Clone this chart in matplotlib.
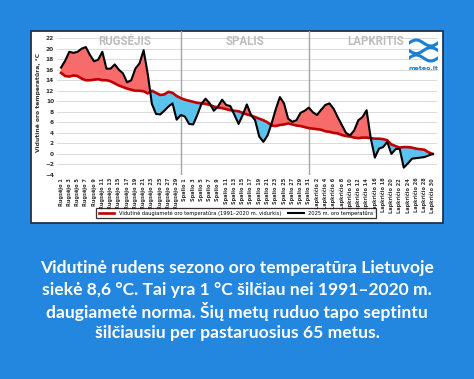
import numpy as np
import matplotlib
matplotlib.use("Agg")
import matplotlib.pyplot as plt
from matplotlib.patches import Rectangle

# Dienos nuo rugsėjo 1 iki lapkričio 30
sep_days = list(range(1, 31))
oct_days = list(range(1, 32))
nov_days = list(range(1, 31))
day_labels = ([f"Rugsėjo {d}" for d in sep_days] + [f"Spalio {d}" for d in oct_days]
              + [f"Lapkričio {d}" for d in nov_days])

# Vidutinė daugiametė oro temperatūra (1991-2020 m. vidurkis)
normal = [15.4, 14.8, 14.7, 14.9, 14.8, 14.3, 14.0, 14.0, 14.1, 14.2,
          14.0, 14.0, 13.8, 13.4, 13.0, 12.7, 12.4, 12.2, 12.0, 12.0,
          11.9, 11.5, 12.0, 11.6, 11.2, 11.3, 11.8, 11.6, 11.0, 10.6,
          10.3, 10.1, 9.9, 9.7, 9.6, 9.5, 9.3, 9.0, 8.8, 8.7,
          8.5, 8.3, 8.2, 8.1, 7.8, 7.5, 7.3, 7.0, 6.7, 6.4,
          6.0, 5.4, 5.3, 5.5, 5.6, 5.8, 5.6, 5.4, 5.3, 5.1,
          4.9, 4.8, 4.7, 4.6, 4.3, 4.2, 4.0, 3.9, 3.6, 3.4,
          3.3, 3.1, 3.0, 3.1, 3.1, 3.0, 2.9, 2.9, 2.8, 2.6,
          1.8, 1.5, 1.2, 1.3, 1.3, 1.2, 1.0, 0.9, 0.8, 0.3, 0.0]

# 2025 m. oro temperatūra
t2025 = [16.4, 17.7, 19.4, 19.2, 19.4, 20.0, 20.3, 18.8, 17.6, 17.9,
         19.4, 16.2, 16.2, 17.0, 16.0, 15.3, 13.6, 14.0, 16.2, 17.2,
         19.7, 15.2, 9.5, 7.6, 7.5, 8.2, 9.0, 9.6, 6.5, 7.4,
         7.1, 5.7, 5.6, 7.4, 9.5, 10.5, 9.6, 8.2, 9.0, 10.3,
         9.3, 9.1, 7.4, 5.7, 7.4, 9.4, 7.4, 6.4, 3.3, 2.3,
         3.5, 5.8, 8.5, 10.8, 9.6, 6.7, 6.1, 6.4, 7.8, 8.2,
         8.8, 7.9, 7.4, 8.4, 9.3, 9.6, 8.6, 7.0, 5.5, 4.0,
         3.5, 4.5, 6.4, 7.0, 8.3, 3.0, -0.7, 1.0, 1.3, 2.3,
         0.0, 0.9, 1.0, -2.6, -1.8, -0.9, -0.8, -0.7, -0.6, -0.3, 0.0]

months = ["RUGSĖJIS", "SPALIS", "LAPKRITIS"]
month_pos = [15.5, 44.5, 76.3]

text_lines = [
    "Vidutinė rudens sezono oro temperatūra Lietuvoje",
    "siekė 8,6 °C. Tai yra 1 °C šilčiau nei 1991–2020 m.",
    "daugiametė norma. Šių metų ruduo tapo septintu",
    "šilčiausiu per pastaruosius 65 metus.",
]

bg = "#2387e0"
fig = plt.figure(figsize=(4.74, 3.79), dpi=100, facecolor=bg)

# baltas fonas su tamsiu rėmeliu
fig.patches.append(Rectangle((31 / 474, 1 - 223 / 379), 412 / 474, 192 / 379,
                             transform=fig.transFigure, facecolor="white",
                             edgecolor="#1b3452", linewidth=1.3, zorder=-5))

ax = fig.add_axes([56.9 / 474, 1 - 175 / 379, 379.9 / 474, 144 / 379])
ax.set_facecolor("none")
x = np.arange(len(normal))
n = np.array(normal)
t = np.array(t2025)

ax.fill_between(x, n, t, where=t >= n, interpolate=True, color="#f86b6b", lw=0, zorder=2)
ax.fill_between(x, n, t, where=t < n, interpolate=True, color="#5cc3ee", lw=0, zorder=2)
ax.plot(x, n, color="#c00000", lw=1.9, zorder=3,
        label="Vidutinė daugiametė oro temperatūra (1991–2020 m. vidurkis)")
ax.plot(x, t, color="black", lw=1.5, zorder=4, label="2025 m. oro temperatūra")

for v in [29, 60]:
    ax.axvline(v, color="#a6a6a6", lw=1.0, zorder=1)

for m, p in zip(months, month_pos):
    ax.text(p, 21.4, m, ha="center", va="center", color="#bdbdbd",
            fontsize=8.3, fontweight="bold", family="Roboto")

ax.set_xlim(-1, len(normal))
ax.set_ylim(-4, 23.35)
ax.set_yticks(range(-4, 23, 2))
ax.yaxis.grid(True, color="#dadada", lw=0.7, zorder=0)
ax.set_axisbelow(True)
ax.set_xticks(x[::2])
ax.set_xticklabels(day_labels[::2], rotation=90, fontsize=3.6, fontweight="bold")
ax.tick_params(axis="both", length=0, pad=2, labelcolor="#333333")
ax.tick_params(axis="y", labelsize=4.2)
for lab in ax.get_yticklabels():
    lab.set_fontweight("bold")
for s in ax.spines.values():
    s.set_visible(False)
ax.set_ylabel("Vidutinė oro temperatūra, °C", fontsize=4.3, fontweight="bold",
              color="#333333", labelpad=3)

leg = fig.legend(loc="center", bbox_to_anchor=(236 / 474, 1 - 213 / 379), ncol=2,
                 fontsize=3.7, frameon=True, fancybox=False, handlelength=3,
                 columnspacing=1.5, borderpad=0.5)
leg.get_frame().set_edgecolor("black")
leg.get_frame().set_linewidth(0.9)

# meteo.lt logotipas
lx = fig.add_axes([409 / 474, 1 - 63 / 379, 29 / 474, 25 / 379])
lx.set_axis_off()
u = np.linspace(0, 1, 50)
lx.plot(u, 0.8 + 0.12 * np.sin(u * 2 * np.pi), color="#1a7fd6", lw=2.2)
lx.plot(u, 0.5 - 0.12 * np.sin(u * 2 * np.pi), color="#1a7fd6", lw=2.2)
lx.plot(u, 0.2 + 0.12 * np.sin(u * 2 * np.pi), color="#1a7fd6", lw=2.2)
lx.set_xlim(0, 1)
lx.set_ylim(0, 1)
fig.text(423.5 / 474, 1 - 68 / 379, "meteo.lt", ha="center", va="center",
         color="#1a7fd6", fontsize=4.5, fontweight="bold")

for i, line in enumerate(text_lines):
    fig.text(0.5, 1 - (268 + i * 21.7) / 379, line, ha="center", va="center",
             color="white", fontsize=12.6, fontweight="bold", family="Lato")

fig.savefig("out.png", dpi=100, facecolor=bg)
